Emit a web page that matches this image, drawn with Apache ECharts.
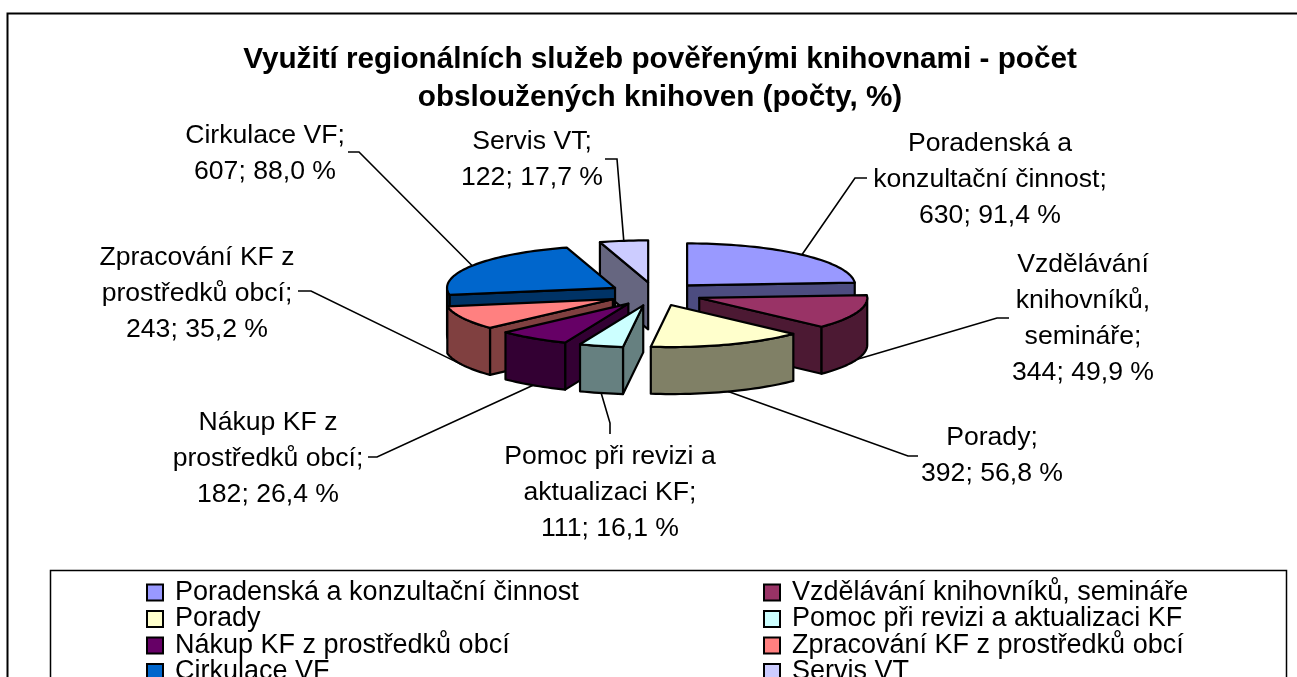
<!DOCTYPE html>
<html><head><meta charset="utf-8">
<style>html,body{margin:0;padding:0;background:#fff;overflow:hidden}#c{width:1297px;height:677px}</style>
<script src="https://cdn.jsdelivr.net/npm/echarts@6/dist/echarts.min.js"></script>
</head><body><div id="c"></div>
<script>
// ---- data ----
const categories = ['Poradenská a konzultační činnost','Vzdělávání knihovníků, semináře','Porady','Pomoc při revizi a aktualizaci KF','Nákup KF z prostředků obcí','Zpracování KF z prostředků obcí','Cirkulace VF','Servis VT'];
const counts = [630,344,392,111,182,243,607,122];
const percents = ['91,4','49,9','56,8','16,1','26,4','35,2','88,0','17,7'];
const titleLines = ['Využití regionálních služeb pověřenými knihovnami - počet','obsloužených knihoven (počty, %)'];
const wrappedNames = [['Poradenská a','konzultační činnost;'],['Vzdělávání','knihovníků,','semináře;'],['Porady;'],['Pomoc při revizi a','aktualizaci KF;'],['Nákup KF z','prostředků obcí;'],['Zpracování KF z','prostředků obcí;'],['Cirkulace VF;'],['Servis VT;']];
const topColors = ['#9999FF','#993366','#FFFFCC','#CCFFFF','#660066','#FF8080','#0066CC','#CCCCFF'];
const sideColors = ['#4C4C80','#4C1933','#808066','#668080','#330033','#804040','#003366','#666680'];

// ---- layout ----
const PIE = {cx:655, cy:294, rx:168, ry:42, depth:47, explode:47};
const FONT = 'Liberation Sans, Arial, sans-serif';
const LABEL_SIZE = 26.6, LABEL_LH = 36;
const labelAnchor = [[990,126],[1083,247],[992,420],[610,439],[268,405],[197,240],[265,118],[532,124]]; // centre x, top y of first line
const leaderElbow = [[[855,178],[867,178]],[[997,318],[1009,318]],[[908,456],[918,456]],[[610,423],[610,434]],[[377,457],[368,457]],[[311,291],[298,291]],[[359,152],[348,152]],[[617,159],[605,159]]];

const total = counts.reduce((a,b)=>a+b,0);
let run = 0;
const slices = counts.map((v,i)=>{const s=run/total*2*Math.PI; run+=v; const e=run/total*2*Math.PI; return {i,s,e,m:(s+e)/2};});
function rim(a,ox,oy,dz){return [ox+PIE.rx*Math.sin(a), oy-PIE.ry*Math.cos(a)+(dz||0)];}
function arc(a0,a1,ox,oy,dz){const pts=[];const n=Math.max(6,Math.ceil((a1-a0)/0.03));for(let k=0;k<=n;k++)pts.push(rim(a0+(a1-a0)*k/n,ox,oy,dz));return pts;}

function renderSlice(params, api){
  const sl = slices[api.value(0)];
  const i = sl.i, {s,e,m} = sl;
  const ox = PIE.cx+PIE.explode*Math.sin(m), oy = PIE.cy-PIE.explode*PIE.ry/PIE.rx*Math.cos(m);
  const d = PIE.depth, ch=[];
  const line={stroke:'#000',lineWidth:2.2,lineJoin:'round'};
  const poly=(pts,fill)=>ch.push({type:'polygon',shape:{points:pts},style:Object.assign({fill},line)});
  [[s,-1],[e,1]].forEach(([a,sgn])=>{
    if(sgn*Math.sin(a)>1e-6){
      const p=rim(a,ox,oy);
      poly([[ox,oy],p,[p[0],p[1]+d],[ox,oy+d]],sideColors[i]);
    }
  });
  const a0=Math.max(s,Math.PI/2), a1=Math.min(e,Math.PI*1.5);
  if(a1>a0){
    poly(arc(a0,a1,ox,oy,0).concat(arc(a0,a1,ox,oy,d).reverse()),sideColors[i]);
  }
  poly([[ox,oy]].concat(arc(s,e,ox,oy,0)),topColors[i]);
  const front=Math.cos(m)<0;
  const start=rim(m,ox,oy,front?d:0);
  ch.push({type:'polyline',shape:{points:[start].concat(leaderElbow[i])},style:{fill:null,stroke:'#000',lineWidth:1.6}});
  const txt=wrappedNames[i].concat([counts[i]+'; '+percents[i]+' %']).join('\n');
  ch.push({type:'text',style:{text:txt,x:labelAnchor[i][0],y:labelAnchor[i][1],align:'center',verticalAlign:'top',font:LABEL_SIZE+'px '+FONT,lineHeight:LABEL_LH,fill:'#000'}});
  return {type:'group',children:ch};
}

const paintOrder = slices.slice().sort((a,b)=>(-Math.cos(a.m))-(-Math.cos(b.m)));
const series = paintOrder.map(sl=>({
  type:'custom', name:categories[sl.i], coordinateSystem:'none', renderItem:renderSlice,
  data:[[sl.i,counts[sl.i]]], itemStyle:{color:topColors[sl.i]}, silent:true, animation:false
}));

const mkLegend=(names,left)=>({
  orient:'vertical', left, top:579, height:200, padding:0, itemWidth:16, itemHeight:16, itemGap:-0.5, icon:'rect', selectedMode:false,
  data:names.map(name=>({name,icon:'rect'})),
  itemStyle:{borderColor:'#000',borderWidth:2},
  textStyle:{fontFamily:FONT,fontSize:27,color:'#000',padding:[0,0,0,7]},
});

const chart=echarts.init(document.getElementById('c'),null,{renderer:'canvas'});
chart.setOption({
  animation:false, backgroundColor:'#fff',
  title:{text:titleLines.join('\n'),left:655,textAlign:'center',top:36,textStyle:{fontFamily:FONT,fontSize:29.7,fontWeight:'bold',color:'#000',lineHeight:38}},
  legend:[mkLegend(categories.filter((_,k)=>k%2===0),146),mkLegend(categories.filter((_,k)=>k%2===1),763)],
  graphic:[
    {type:'rect',z:-1,shape:{x:7.5,y:13.5,width:1400,height:800},style:{fill:'#fff',stroke:'#000',lineWidth:2}},
    {type:'rect',z:-1,shape:{x:50.5,y:570.5,width:1236,height:140},style:{fill:'#fff',stroke:'#000',lineWidth:1.5}}
  ],
  series
});
</script></body></html>
